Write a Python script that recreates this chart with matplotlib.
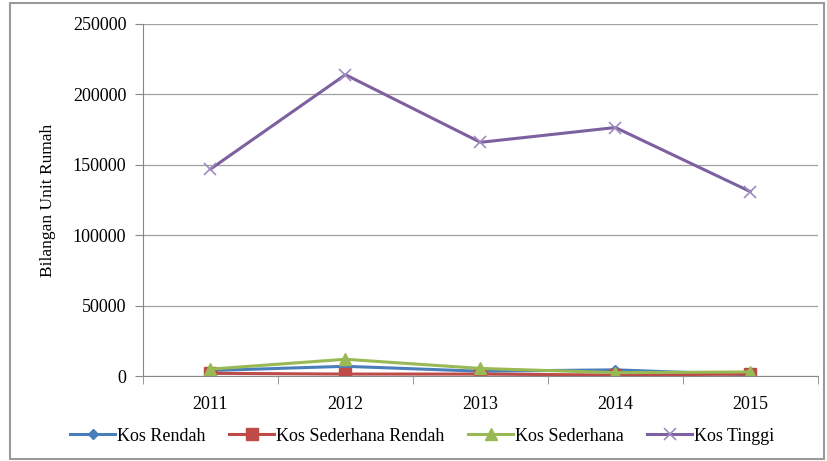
import matplotlib.pyplot as plt
from matplotlib.patches import Rectangle

plt.rcParams['font.family'] = ['Liberation Serif', 'DejaVu Serif']

years = ['2011', '2012', '2013', '2014', '2015']
kos_rendah = [4000, 7000, 3500, 4500, 1000]
kos_sederhana_rendah = [2000, 1500, 1500, 800, 1500]
kos_sederhana = [5000, 12000, 5500, 2500, 3000]
kos_tinggi = [147000, 214000, 166000, 176500, 131000]

fig = plt.figure(figsize=(8.28, 4.61), dpi=100)
ax = fig.add_axes([0.1727, 0.184, 0.815, 0.764])

x = range(len(years))
ax.plot(x, kos_rendah, color='#4A7EBB', lw=2.2, marker='D', ms=5, label='Kos Rendah')
ax.plot(x, kos_sederhana_rendah, color='#BE4B48', lw=2.2, marker='s', ms=8, label='Kos Sederhana Rendah')
ax.plot(x, kos_sederhana, color='#98B954', lw=2.2, marker='^', ms=8, label='Kos Sederhana')
ax.plot(x, kos_tinggi, color='#7D60A0', lw=2.2, marker='x', ms=8, mec='#A08CC0', mew=1.2, label='Kos Tinggi')

ax.set_xlim(-0.5, 4.5)
ax.set_ylim(0, 250000)
ax.set_yticks(range(0, 250001, 50000))
ax.set_xticks(list(x))
ax.set_xticklabels(years)
ax.set_xticks([i + 0.5 for i in range(-1, 5)], minor=True)
ax.tick_params(axis='x', which='major', length=0, pad=14, labelsize=13)
ax.tick_params(axis='x', which='minor', length=6, color='#888888', direction='out')
ax.tick_params(axis='y', length=6, color='#888888', labelsize=13, pad=6)
ax.grid(axis='y', color='#A0A0A0', lw=0.9)
ax.set_axisbelow(True)
for s in ['top', 'right']:
    ax.spines[s].set_visible(False)
for s in ['left', 'bottom']:
    ax.spines[s].set_color('#888888')
ax.set_ylabel('Bilangan Unit Rumah', fontsize=12.5, labelpad=12)

fig.legend(loc='lower center', bbox_to_anchor=(0.51, 0.0), ncol=4, frameon=False,
           fontsize=13, handlelength=2.5, columnspacing=1.3, handletextpad=0.1)

fig.patches.append(Rectangle((0.012, 0.005), 0.983, 0.988, transform=fig.transFigure,
                             fill=False, edgecolor='#9A9A9A', lw=1.5))

fig.savefig('out.png', dpi=100)
